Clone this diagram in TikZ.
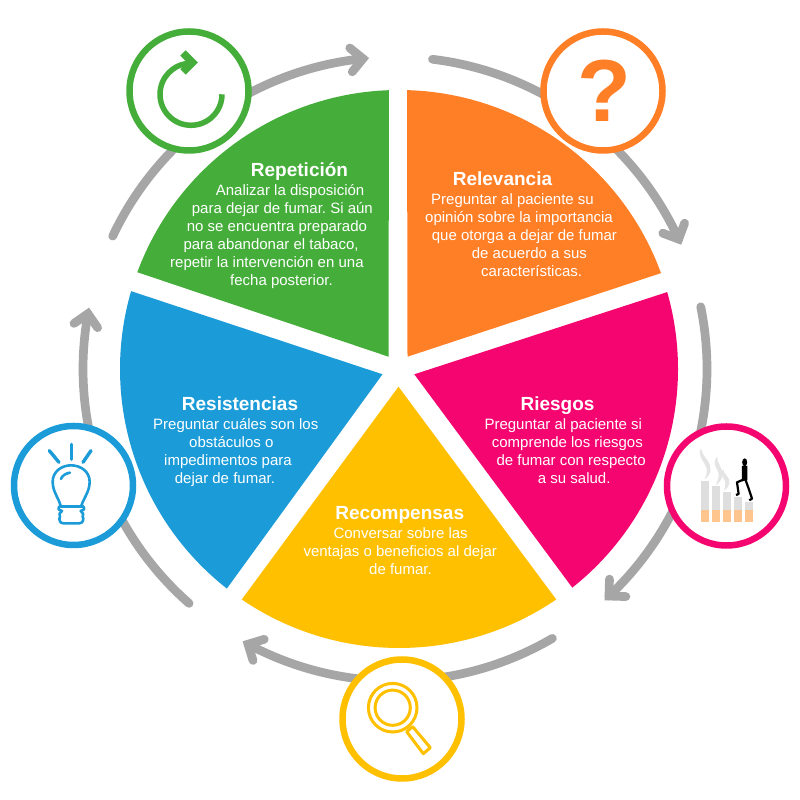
\documentclass[tikz,border=0pt]{standalone}
\usepackage{fontspec}
\setmainfont{Liberation Sans}
\usetikzlibrary{calc}
\definecolor{cgreen}{HTML}{45AE3A}
\definecolor{corange}{HTML}{FF7F27}
\definecolor{cpink}{HTML}{F5056F}
\definecolor{cyellow}{HTML}{FFC000}
\definecolor{cblue}{HTML}{1B9CD8}
\definecolor{cgrey}{HTML}{A6A6A6}
\definecolor{ccig}{HTML}{DEDEDE}
\definecolor{cfilter}{HTML}{FFC58F}
\tikzset{
  ringarc/.style={draw=cgrey,line width=8.7pt,line cap=round},
  ringhead/.style={draw=cgrey,line width=8.7pt,line cap=round,line join=miter,miter limit=10},
  badge/.style={circle,draw=#1,fill=white,line width=6.5pt,minimum size=119pt,inner sep=0pt,outer sep=0pt},
  ttl/.style={text=white,font=\fontsize{19}{20}\selectfont\bfseries,inner sep=0pt,anchor=base},
  body/.style={text=white,align=left,anchor=north west,inner sep=0pt,font=\fontsize{15}{18}\selectfont\frenchspacing},
}
\newcommand{\ringarrow}[2]{%
  \draw[ringarc] (395,431) ++(#1:312) arc[start angle=#1,end angle=#2,radius=312];
  \draw[ringhead,shift={(395,431)},rotate=#2] (300,12) -- (312,0) -- (324,12);
}
\newcommand{\sector}[4]{% colour, apex, start angle, end angle
  \fill[#1] #2 -- ($(399,431)+(#3:279)$) arc[start angle=#3,end angle=#4,radius=279] -- cycle;
}
\newcommand{\ind}[1]{\hspace*{#1pt}}
\begin{document}
\begin{tikzpicture}[x=1pt,y=1pt]
\useasboundingbox (0,0) rectangle (800,800);
\fill[white] (0,0) rectangle (800,800);
% grey ring
\ringarrow{154.8}{95.9}
\ringarrow{83.1}{24.6}
\ringarrow{11.5}{-46.7}
\ringarrow{-59.7}{-118.1}
\ringarrow{228.7}{169.8}
% sectors
\sector{cgreen}{(388.5,443.3)}{92.06}{159.7}
\sector{corange}{(407.5,443.3)}{88.35}{20.1}
\sector{cpink}{(414.3,425.7)}{16.0}{-51.6}
\sector{cyellow}{(398.5,413.3)}{-55.7}{-124.3}
\sector{cblue}{(382.5,425.7)}{231.9}{163.8}
% badges
\node[badge=cgreen]  (bgreen)  at (189,709) {};
\node[badge=corange] (borange) at (603,709) {};
\node[badge=cpink]   (bpink)   at (726.5,314) {};
\node[badge=cyellow] (byellow) at (402,81) {};
\node[badge=cblue]   (bblue)   at (73.5,314.5) {};
% repeat icon
\draw[cgreen,line width=5.5pt] (222,705.7) arc[start angle=0,end angle=-268,radius=31];
\draw[cgreen,line width=7.5pt,miter limit=10] (183,747) -- (192.5,737.5) -- (183,728);
% question mark
\node[text=corange,inner sep=0pt,font=\fontsize{88}{88}\selectfont\bfseries] (qmark) at (604,709) {?};
% cigarettes icon
\begin{scope}[shift={(640,400)},x=0.3333pt,y=-0.3333pt]
  \foreach \xa/\xb/\yt in {183/208/243,216/240/258,249/273/276,282/306/290,315/339/307}{
    \fill[ccig] (\xa,\yt) rectangle (\xb,330);
    \fill[cfilter] (\xa,330) rectangle (\xb,367);
  }
  \fill[ccig!80!white] (183,145) .. controls (170,170) and (195,185) .. (200,205) .. controls (203,220) and (197,228) .. (194,238) .. controls (216,222) and (216,200) .. (202,180) .. controls (192,168) and (186,160) .. (183,145) -- cycle;
  \fill[ccig!80!white] (232,170) .. controls (214,190) and (232,205) .. (236,220) .. controls (238,235) and (230,245) .. (228,255) .. controls (250,240) and (252,215) .. (240,198) .. controls (234,190) and (231,180) .. (232,170) -- cycle;
  \fill[ccig!80!white] (250,208) .. controls (238,225) and (252,235) .. (256,245) .. controls (258,255) and (254,265) .. (252,272) .. controls (272,258) and (272,240) .. (261,228) .. controls (254,220) and (250,215) .. (250,208) -- cycle;
  \fill[black] (314,187) ellipse[x radius=7.5,y radius=12];
  \fill[black] (306,198) -- (322,198) -- (322,240) -- (306,244) -- cycle;
  \draw[black,line width=2.2pt,line join=round] (312,238) -- (291,247) -- (296,282) -- (288,285);
  \draw[black,line width=2.2pt,line join=round] (316,238) -- (325,263) -- (336,296) -- (328,301);
\end{scope}
% bulb icon
\begin{scope}[shift={(0,390)},x=0.3333pt,y=-0.3333pt,cblue,line width=2.6pt,line cap=round,line join=round]
  \draw[line width=3.4pt] (148,122) -- (177,157);
  \draw[line width=3.4pt] (214,103) -- (214,148);
  \draw[line width=3.4pt] (273,122) -- (249,157);
  \draw (183,290) .. controls (175,262) and (158,245) .. (158,215) .. controls (158,185) and (185,166) .. (213,166) .. controls (242,166) and (269,185) .. (269,215) .. controls (269,245) and (252,262) .. (243,290);
  \draw (178,290) -- (250,290);
  \draw (178,290) .. controls (172,297) and (178,302) .. (186,303) .. controls (178,308) and (176,314) .. (180,320) .. controls (176,326) and (178,340) .. (190,340) -- (238,340) .. controls (250,340) and (252,326) .. (248,320) .. controls (252,314) and (250,308) .. (242,303) .. controls (250,302) and (256,297) .. (250,290);
  \draw (183,207) .. controls (186,197) and (198,190) .. (210,188);
\end{scope}
% magnifier icon
\begin{scope}[cyellow,line width=3pt]
  \draw (392.7,92.3) circle[radius=24.3];
  \draw (392.7,92.3) circle[radius=17.6];
  \draw[line join=round] (406.7,68.3) -- (412.7,73.3) -- (430.3,52.3) -- (423.3,46.3) -- cycle;
\end{scope}
% text
\node[ttl] (t1) at (299.5,623.3) {Repetición};
\node[body] (b1) at (170,617.6) {\strut\ind{45.7}Analizar la disposición\\\ind{21.7}para dejar de fumar. Si aún\\\ind{16.7}no se encuentra preparado\\\ind{13.3}para abandonar el tabaco,\\repetir la intervención en una\\\ind{60}fecha posterior.};
\node[ttl] (t2) at (502.5,614) {Relevancia};
\node[body] (b2) at (425,608.3) {\strut\ind{6}Preguntar al paciente su\\opinión sobre la importancia\\\ind{6.7}que otorga a dejar de fumar\\\ind{46.7}de acuerdo a sus\\\ind{56}características.};
\node[ttl] (t3) at (557.5,389.3) {Riesgos};
\node[body] (b3) at (484.3,383.3) {\strut Preguntar al paciente si\\\ind{7.4}comprende los riesgos\\\ind{12}de fumar con respecto\\\ind{53.4}a su salud.};
\node[ttl] (t4) at (240,389.3) {Resistencias};
\node[body] (b4) at (153,383.3) {\strut Preguntar cuáles son los\\\ind{36}obstáculos o\\\ind{11}impedimentos para\\\ind{21.7}dejar de fumar.};
\node[ttl] (t5) at (399.7,280) {Recompensas};
\node[body] (b5) at (303.3,274.3) {\strut\ind{30}Conversar sobre las\\ventajas o beneficios al dejar\\\ind{65.7}de fumar.};
\end{tikzpicture}
\end{document}
